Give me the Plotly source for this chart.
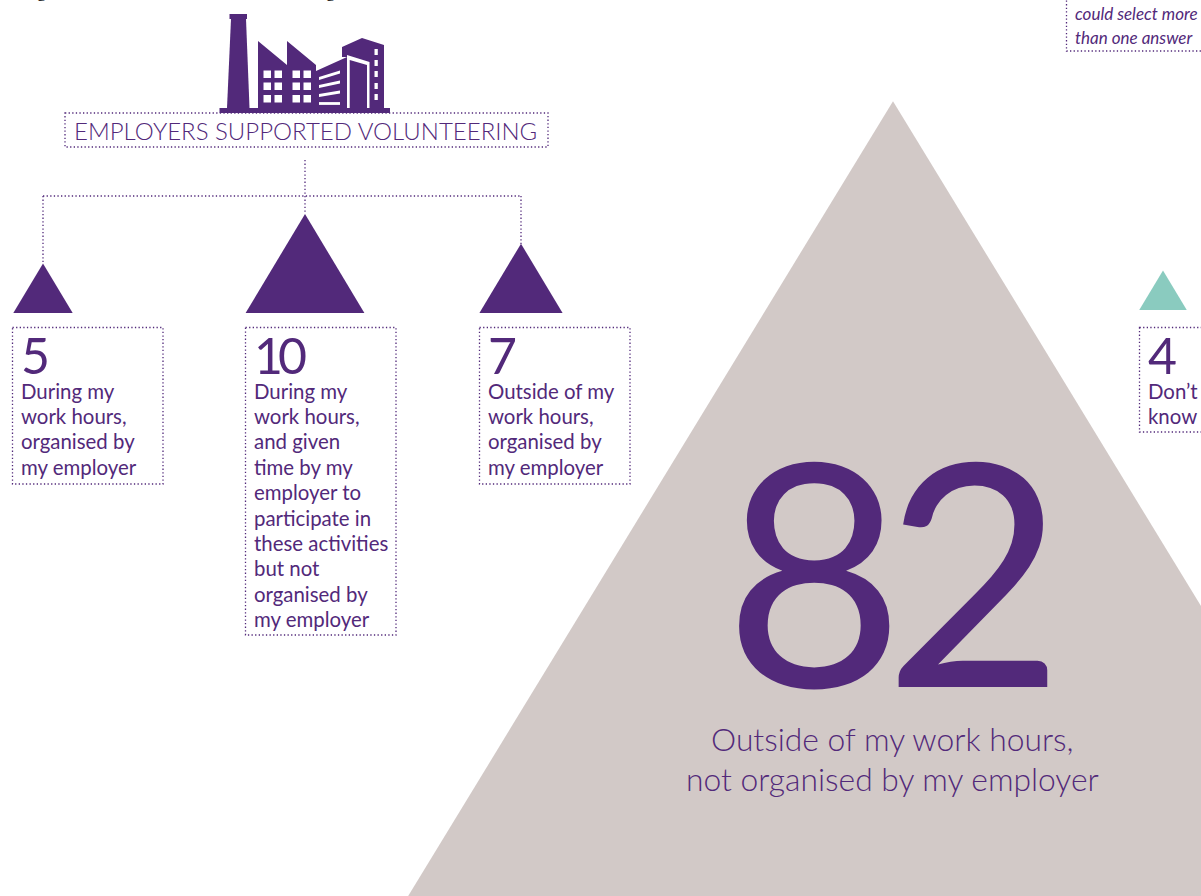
import plotly.graph_objects as go

# ---- data ----
values = [5, 10, 7, 82, 4]
centers = [43, 305, 521, 893, 1163]
bases = [313, 313, 313, 913, 310]
fill_keys = ["purple", "purple", "purple", "taupe", "teal"]
label_5 = ["During my", "work hours,", "organised by", "my employer"]
label_10 = ["During my", "work hours,", "and given", "time by my", "employer to", "participate in",
            "these activities", "but not", "organised by", "my employer"]
label_7 = ["Outside of my", "work hours,", "organised by", "my employer"]
label_82 = ["Outside of my work hours,", "not organised by my employer"]
label_4 = ["Don’t", "know"]
title_text = "EMPLOYERS SUPPORTED VOLUNTEERING"
note_lines = ["Respondents", "could select more", "than one answer"]

PURPLE = "#52297a"
TAUPE = "#d2c9c7"
TEAL = "#8acbbf"
colors = {"purple": PURPLE, "taupe": TAUPE, "teal": TEAL}
FONT = "Lato"
PX_PER_UNIT = 9.9

fig = go.Figure()
order = [3, 0, 1, 2, 4]
for i in order:
    h = values[i] * PX_PER_UNIT
    half = h * (0.61 if values[i] == 82 else 0.6)
    c = centers[i]
    base = bases[i]
    apex = base - h
    fig.add_trace(go.Scatter(x=[c - half, c, c + half, c - half], y=[base, apex, base, base], mode="lines",
                             fill="toself", fillcolor=colors[fill_keys[i]], line=dict(width=0),
                             hoverinfo="skip", showlegend=False))

anns = []
def txt(x, y, s, size, anchor="left", weight=400, italic=False, color=PURPLE, family=FONT):
    # lines cropped by the top edge are anchored to the paper: data anchors above the range get hidden
    off_top = y < 0
    anns.append(dict(x=x, y=(1 - y / 896) if off_top else y, xref="x", yref="paper" if off_top else "y",
                     text=s, showarrow=False, xanchor=anchor, yanchor="middle",
                     borderpad=0, borderwidth=0,
                     font=dict(family=family, size=size, color=color, weight=weight,
                               style="italic" if italic else "normal")))

DOT = "1.3px,2.3px"
shapes = []
def dotted(x0, y0, x1, y1):
    shapes.append(dict(type="line", x0=x0, y0=y0, x1=x1, y1=y1, xref="x", yref="y",
                       line=dict(color=PURPLE, width=1.3, dash=DOT)))
def box(x0, y0, x1, y1):
    shapes.append(dict(type="rect", x0=x0, y0=y0, x1=x1, y1=y1, xref="x", yref="y",
                       line=dict(color=PURPLE, width=1.3, dash=DOT)))
def poly(path, color=PURPLE):
    shapes.append(dict(type="path", path=path, xref="x", yref="y", fillcolor=color, line=dict(width=0)))
def bar(x0, y0, x1, y1, color="#ffffff"):
    poly(f"M{x0},{y0} L{x1},{y0} L{x1},{y1} L{x0},{y1} Z", color)

# connectors and boxes
box(65, 113, 548, 147)
dotted(305, 160, 305, 214)
dotted(43, 196, 521, 196)
dotted(43, 196, 43, 263)
dotted(521, 196, 521, 244)
box(12.5, 327.5, 163, 484)
box(245.5, 327.5, 396, 635)
box(479.5, 327.5, 630, 484)
box(1139.5, 327.5, 1230, 432)
box(1066.5, -30, 1230, 51)

# factory icon
bar(229.5, 14, 247, 19, PURPLE)
poly("M231,19 L246,19 L249.5,108 L227,108 Z")
bar(219.5, 108, 390, 113, PURPLE)
poly("M258,108 L258,41 L287,65 L287,41 L316,65 L316,71 L347,57 L342,57 L342,47 L362,38 L384,45 L384,108 Z")
poly("M347,108 L347,55 L369.5,62 L369.5,108 L367,108 L367,65 L349.7,60 L349.7,108 Z", "#ffffff")
for wx in [263.5, 274.5, 292.5, 303.5]:
    for wy in [70.5, 82.5, 95]:
        bar(wx, wy, wx + 7.5, wy + 7.5)
for a, b in [(78.5, 72), (86.5, 82), (95.5, 92), (103.5, 103.5)]:
    poly(f"M319,{a-1.4} L340,{b-1.4} L340,{b+1.4} L319,{a+1.4} Z", "#ffffff")
for wy in [49, 60, 71, 83, 94]:
    bar(374.5, wy, 377.8, wy + 6)

# text
txt(305.5, 130, title_text, 24, "center", 300)
def block(x, val, lines, digit_gap=24.5):
    for d, ch in enumerate(str(val)):
        txt(x + d * digit_gap, 355, ch, 50, "left", 400)
    for k, s in enumerate(lines):
        txt(x, 390.5 + k * 25.4, s, 20.4, "left", 400)
block(20.5, values[0], label_5)
block(253.5, values[1], label_10)
block(487.5, values[2], label_7)
block(1148, values[4], label_4)
digits_82 = str(values[3])
txt(814, 566, digits_82[0], 311, "center", 400)
txt(974, 566, digits_82[1], 311, "center", 400)
txt(892, 739, label_82[0], 31.8, "center", 300)
txt(892, 779, label_82[1], 31.8, "center", 300)
for k, s in enumerate(note_lines):
    txt(1075, (-10 if k == 0 else -11 + k * 24), s, 17, "left", 400, True)
# the line cropped by the top edge: only its descenders show
txt(41, -9, "g", 18, "center", 400, False, "#000000", "Liberation Serif")
txt(330, -9, "g", 18, "center", 400, False, "#000000", "Liberation Serif")

fig.update_layout(width=1201, height=896, margin=dict(l=0, r=0, t=0, b=0), paper_bgcolor="white",
                  plot_bgcolor="white", showlegend=False, annotations=anns, shapes=shapes,
                  xaxis=dict(range=[0, 1201], visible=False, fixedrange=True),
                  yaxis=dict(range=[896, 0], visible=False, fixedrange=True))
fig.write_html("out.html", config={"displayModeBar": False},
               post_script="document.body.style.margin='0';document.body.style.overflow='hidden';")
